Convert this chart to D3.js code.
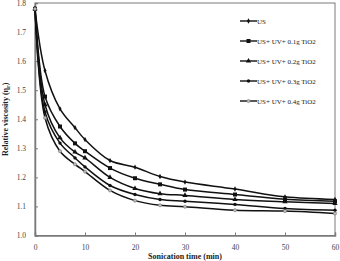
<!DOCTYPE html>
<html>
<head>
<meta charset="utf-8">
<script src="https://cdn.jsdelivr.net/npm/d3@7/dist/d3.min.js"></script>
<style>
  html, body { margin: 0; padding: 0; background: #fff; }
  svg { display: block; font-family: 'Liberation Serif', 'DejaVu Serif', serif; }
</style>
</head>
<body>
<svg id="chart" width="340" height="261"></svg>
<script>
'use strict';

// sonication time (min)
const times = [0, 2, 5, 8, 10, 15, 20, 25, 30, 40, 50, 60];

const series_names = ['US', 'US+ UV+ 0.1g TiO2', 'US+ UV+ 0.2g TiO2', 'US+ UV+ 0.3g TiO2', 'US+ UV+ 0.4g TiO2'];

const us_values     = [1.78, 1.567, 1.436, 1.371, 1.330, 1.258, 1.235, 1.203, 1.184, 1.160, 1.133, 1.124];
const tio2_01_values = [1.78, 1.478, 1.375, 1.317, 1.290, 1.232, 1.197, 1.176, 1.158, 1.141, 1.125, 1.118];
const tio2_02_values = [1.78, 1.450, 1.336, 1.287, 1.267, 1.200, 1.162, 1.144, 1.138, 1.124, 1.116, 1.110];
const tio2_03_values = [1.78, 1.425, 1.318, 1.267, 1.236, 1.172, 1.141, 1.124, 1.118, 1.107, 1.093, 1.087];
const tio2_04_values = [1.78, 1.405, 1.290, 1.245, 1.220, 1.155, 1.120, 1.104, 1.099, 1.087, 1.084, 1.076];

const x_ticks = [0, 10, 20, 30, 40, 50, 60];
const y_ticks = [1.0, 1.1, 1.2, 1.3, 1.4, 1.5, 1.6, 1.7, 1.8];

const all_values = [us_values, tio2_01_values, tio2_02_values, tio2_03_values, tio2_04_values];
const markers = ['diamond', 'square', 'triangle', 'circle', 'ring'];

const margin = { top: 3, right: 5, bottom: 25, left: 35 };
const width = 340, height = 261;

const svg = d3.select('#chart');

const x = d3.scaleLinear().domain([0, 60]).range([margin.left, width - margin.right]);
const y = d3.scaleLinear().domain([1.0, 1.8]).range([height - margin.bottom - 0.5, margin.top]);

// frame
svg.append('rect')
    .attr('x', x(0)).attr('y', y(1.8))
    .attr('width', x(60) - x(0)).attr('height', y(1.0) - y(1.8))
    .attr('fill', 'none').attr('stroke', '#7a7a7a').attr('stroke-width', 1);

// axes, ticks inward
const x_axis = svg.append('g')
    .attr('transform', `translate(0,${y(1.0)})`)
    .call(d3.axisBottom(x).tickValues(x_ticks).tickSize(-3).tickPadding(9).tickFormat(d3.format('d')));
const y_axis = svg.append('g')
    .attr('transform', `translate(${x(0)},0)`)
    .call(d3.axisLeft(y).tickValues(y_ticks).tickSize(-3).tickPadding(9).tickFormat(d3.format('.1f')));

[x_axis, y_axis].forEach(a => {
    a.select('.domain').attr('stroke', '#7a7a7a').attr('stroke-width', 1.5);
    a.selectAll('.tick line').attr('stroke', '#7a7a7a');
    a.selectAll('.tick text')
        .attr('fill', '#444')
        .style('font-family', "'Liberation Serif', serif")
        .style('font-size', '7.5px');
});

// lines (smoothed like the original)
const line = d3.line()
    .x((d, i) => x(times[i]))
    .y(d => y(d))
    .curve(d3.curveCatmullRom.alpha(0.5));

all_values.forEach(vals => {
    svg.append('path')
        .datum(vals)
        .attr('d', line)
        .attr('fill', 'none')
        .attr('stroke', '#111')
        .attr('stroke-width', 1.5);
});

const drawMarker = (g, kind, cx, cy) => {
    if (kind === 'diamond') {
        g.append('path').attr('d', d3.symbol(d3.symbolDiamond, 8)())
            .attr('transform', `translate(${cx},${cy})`).attr('fill', '#111');
    } else if (kind === 'square') {
        g.append('rect').attr('x', cx - 2).attr('y', cy - 2).attr('width', 4).attr('height', 4).attr('fill', '#111');
    } else if (kind === 'triangle') {
        g.append('path').attr('d', d3.symbol(d3.symbolTriangle, 12)())
            .attr('transform', `translate(${cx},${cy})`).attr('fill', '#111');
    } else if (kind === 'circle') {
        g.append('circle').attr('cx', cx).attr('cy', cy).attr('r', 1.7).attr('fill', '#111');
    } else {
        g.append('circle').attr('cx', cx).attr('cy', cy).attr('r', 1.6).attr('fill', '#bbb').attr('stroke', '#777').attr('stroke-width', 0.6);
    }
};

all_values.forEach((vals, si) => {
    const g = svg.append('g');
    vals.forEach((v, i) => drawMarker(g, markers[si], x(times[i]), y(v)));
});

// legend
const legend = svg.append('g').attr('transform', 'translate(240,21)');
series_names.forEach((name, i) => {
    const row = legend.append('g').attr('transform', `translate(0,${i * 20})`);
    row.append('line').attr('x1', 0).attr('x2', 17).attr('y1', 0).attr('y2', 0)
        .attr('stroke', '#111').attr('stroke-width', 1.4);
    drawMarker(row, markers[i], 8.5, 0);
    row.append('text').attr('x', 17).attr('y', 2.5)
        .style('font-size', '7px').attr('fill', '#222')
        .text(name);
});

// axis titles
svg.append('text')
    .attr('x', (x(0) + x(60)) / 2).attr('y', 259)
    .attr('text-anchor', 'middle')
    .style('font-size', '8px').style('font-weight', 'bold').attr('fill', '#222')
    .text('Sonication time (min)');

const yt = svg.append('text')
    .attr('transform', `translate(8,${(y(1.0) + y(1.8)) / 2}) rotate(-90)`)
    .attr('text-anchor', 'middle')
    .style('font-size', '8px').style('font-weight', 'bold').attr('fill', '#222');
yt.append('tspan').text('Relative viscosity (η');
yt.append('tspan').attr('dy', 2).style('font-size', '6px').text('r');
yt.append('tspan').attr('dy', -2).text(')');
</script>
</body>
</html>
